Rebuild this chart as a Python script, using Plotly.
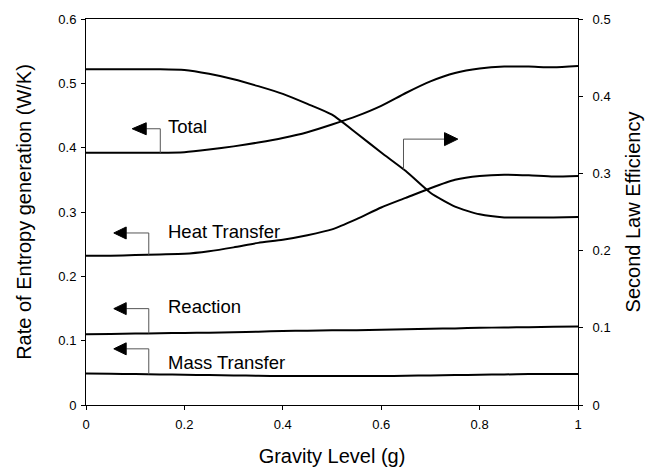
import numpy as np
import plotly.graph_objects as go

# Gravity level (g)
gravity = [0.0, 0.05, 0.1, 0.15, 0.2, 0.25, 0.3, 0.35, 0.4, 0.45, 0.5,
           0.55, 0.6, 0.65, 0.7, 0.75, 0.8, 0.85, 0.9, 0.95, 1.0]

# Rate of entropy generation (W/K)
total = [0.392, 0.392, 0.392, 0.392, 0.393, 0.397, 0.402, 0.408, 0.415, 0.424, 0.436,
         0.449, 0.465, 0.485, 0.503, 0.516, 0.523, 0.526, 0.526, 0.525, 0.527]
heat_transfer = [0.232, 0.232, 0.233, 0.234, 0.235, 0.239, 0.245, 0.252, 0.257, 0.264, 0.273,
                 0.289, 0.307, 0.322, 0.337, 0.350, 0.356, 0.358, 0.357, 0.355, 0.356]
reaction = [0.110, 0.1105, 0.111, 0.1115, 0.112, 0.1125, 0.113, 0.114, 0.115, 0.1155, 0.116,
            0.1163, 0.117, 0.1178, 0.1185, 0.119, 0.120, 0.1205, 0.121, 0.1215, 0.122]
mass_transfer = [0.049, 0.0485, 0.048, 0.0475, 0.047, 0.0465, 0.046, 0.0455, 0.045, 0.045, 0.045,
                 0.045, 0.045, 0.0455, 0.046, 0.0465, 0.047, 0.0475, 0.048, 0.048, 0.048]

# Second law efficiency
efficiency = [0.435, 0.435, 0.435, 0.435, 0.434, 0.429, 0.422, 0.413, 0.403, 0.390, 0.376,
              0.352, 0.327, 0.303, 0.275, 0.257, 0.247, 0.243, 0.243, 0.243, 0.2435]

FONT = "Arial, Liberation Sans, sans-serif"
LINE = dict(color="black", width=2, shape="spline", smoothing=0.6)

fig = go.Figure()
for name, vals in [("Total", total), ("Heat Transfer", heat_transfer),
                   ("Reaction", reaction), ("Mass Transfer", mass_transfer)]:
    fig.add_trace(go.Scatter(x=gravity, y=vals, mode="lines", name=name,
                             line=LINE, yaxis="y"))
fig.add_trace(go.Scatter(x=gravity, y=efficiency, mode="lines",
                         name="Second Law Efficiency", line=LINE, yaxis="y2"))

shapes = []
annotations = []


def callout(label, xv, ytop, series, yref, xbase, xtip, half_h, text_x=None, text_y=None):
    """Bracket leader from a curve to an arrowhead pointing at its axis."""
    ycurve = float(np.interp(xv, gravity, series))
    shapes.append(dict(type="path", xref="x", yref=yref,
                       path=f"M {xv},{ycurve} L {xv},{ytop} L {xbase},{ytop}",
                       line=dict(color="#555555", width=1)))
    shapes.append(dict(type="path", xref="x", yref=yref,
                       path=f"M {xbase},{ytop + half_h} L {xtip},{ytop} "
                            f"L {xbase},{ytop - half_h} Z",
                       fillcolor="black", line=dict(color="black", width=1)))
    if label:
        annotations.append(dict(x=text_x, y=text_y, xref="x", yref=yref, text=label,
                                showarrow=False, xanchor="left", yanchor="middle",
                                font=dict(family=FONT, size=18.5, color="black")))


HL = 6 / 644  # arrowhead half height in left-axis units
HR = 6.5 / 773  # arrowhead half height in right-axis units

callout("Total", 0.151, 0.4294, total, "y", 0.1224, 0.0939, HL, 0.1636, 0.433)
callout("Heat Transfer", 0.1276, 0.2674, heat_transfer, "y", 0.0817, 0.0565, HL, 0.1616, 0.270)
callout("Reaction", 0.1276, 0.1498, reaction, "y", 0.0817, 0.0565, HL, 0.1616, 0.1525)
callout("Mass Transfer", 0.1276, 0.0873, mass_transfer, "y", 0.0817, 0.0565, HL, 0.1616, 0.0655)
callout(None, 0.6453, 0.3444, efficiency, "y2", 0.7287, 0.7557, HR)

axis_common = dict(showline=True, linecolor="black", linewidth=1, ticks="outside",
                   ticklen=4, tickcolor="black", showgrid=False, zeroline=False,
                   automargin=False,
                   tickfont=dict(family=FONT, size=13, color="black"))

fig.update_layout(
    width=647, height=469,
    margin=dict(l=86, r=69, t=19, b=64),
    paper_bgcolor="white", plot_bgcolor="white",
    showlegend=False,
    shapes=shapes, annotations=annotations,
    xaxis=dict(range=[0, 1], dtick=0.2, mirror=True, ticklabelstandoff=3,
               title=dict(text="Gravity Level (g)", standoff=18,
                          font=dict(family=FONT, size=20, color="black")),
               **axis_common),
    yaxis=dict(range=[0, 0.6], dtick=0.1, ticklabelstandoff=2,
               title=dict(text="Rate of Entropy generation (W/K)", standoff=21,
                          font=dict(family=FONT, size=20, color="black")),
               **axis_common),
    yaxis2=dict(range=[0, 0.5], dtick=0.1, overlaying="y", side="right",
                ticklabelstandoff=7,
                title=dict(text="Second Law Efficiency", standoff=16,
                           font=dict(family=FONT, size=20, color="black")),
                **axis_common),
)

fig.write_html("out.html")
